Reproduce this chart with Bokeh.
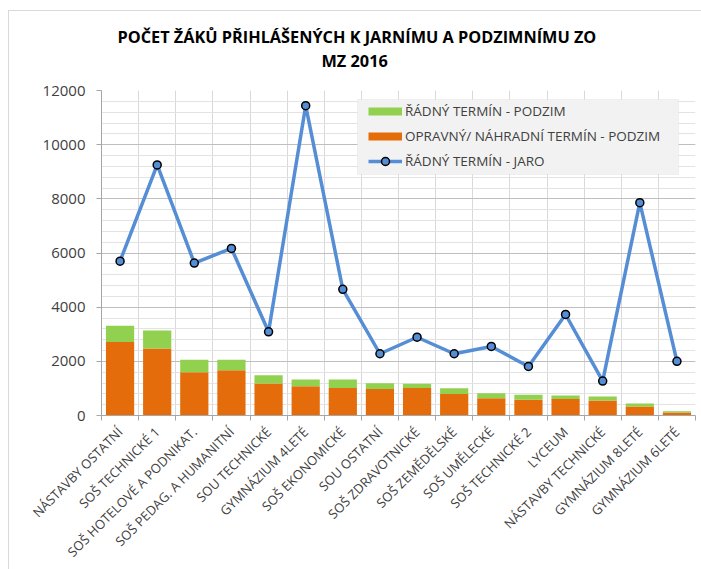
import numpy as np
from bokeh.plotting import figure
from bokeh.models import (ColumnDataSource, Range1d, FixedTicker, Legend, LegendItem,
                          BoxAnnotation, Title)
from bokeh.embed import file_html
from bokeh.resources import INLINE

# ---------------- data ----------------
CATEGORIES = [
    "NÁSTAVBY OSTATNÍ", "SOŠ TECHNICKÉ 1", "SOŠ HOTELOVÉ A PODNIKAT.",
    "SOŠ PEDAG. A HUMANITNÍ", "SOU TECHNICKÉ", "GYMNÁZIUM 4LETÉ",
    "SOŠ EKONOMICKÉ", "SOU OSTATNÍ", "SOŠ ZDRAVOTNICKÉ", "SOŠ ZEMĚDĚLSKÉ",
    "SOŠ UMĚLECKÉ", "SOŠ TECHNICKÉ 2", "LYCEUM", "NÁSTAVBY TECHNICKÉ",
    "GYMNÁZIUM 8LETÉ", "GYMNÁZIUM 6LETÉ",
]
OPRAVNY_PODZIM = [2710, 2470, 1600, 1670, 1180, 1080, 1020, 980, 1020, 790, 640, 580, 610, 550, 330, 110]
RADNY_PODZIM = [600, 670, 460, 390, 305, 245, 305, 210, 150, 220, 185, 185, 125, 150, 110, 50]
RADNY_JARO = [5700, 9250, 5630, 6170, 3090, 11440, 4660, 2280, 2890, 2280, 2550, 1810, 3730, 1270, 7860, 2000]
Y_TICKS = [0, 2000, 4000, 6000, 8000, 10000, 12000]
Y_MINOR_STEP = 400
TITLE_LINES = ["POČET ŽÁKŮ PŘIHLÁŠENÝCH K JARNÍMU A PODZIMNÍMU ZO", "MZ 2016"]
LEGEND_LABELS = ["ŘÁDNÝ TERMÍN - PODZIM", "OPRAVNÝ/ NÁHRADNÍ TERMÍN - PODZIM", "ŘÁDNÝ TERMÍN - JARO"]

# ---------------- style ----------------
FONT = "Open Sans"
ORANGE = "#E46C0A"
GREEN = "#92D050"
BLUE = "#558ED5"
AXIS = "#a6a6a6"
TEXT = "#404040"
BORDER = "#d9d9d9"

n = len(CATEGORIES)
centers = np.arange(n) + 0.5
bounds = list(range(n + 1))

source = ColumnDataSource(dict(x=centers, opravny=OPRAVNY_PODZIM, radny=RADNY_PODZIM,
                               jaro=RADNY_JARO, cat=CATEGORIES))

p = figure(width=701, height=569, output_backend="svg", toolbar_location=None, title=None,
           x_range=Range1d(0, n), y_range=Range1d(Y_TICKS[0], Y_TICKS[-1]),
           min_border_left=101, min_border_right=6, min_border_top=90, min_border_bottom=153)
p.outline_line_color = None
p.background_fill_color = "white"
p.border_fill_alpha = 0
# chart border (left and top edges) drawn as CSS background behind the transparent canvas
p.styles = {
    "background-color": "white",
    "background-image": f"linear-gradient({BORDER},{BORDER}), linear-gradient({BORDER},{BORDER})",
    "background-size": "1px 100%, 100% 1px",
    "background-position": "8px 10px, 8px 10px",
    "background-repeat": "no-repeat",
}

# x axis: labels at category centres, tick marks at category boundaries
xt = FixedTicker(ticks=list(centers), minor_ticks=bounds)
p.xaxis.ticker = xt
p.xaxis.major_label_overrides = {float(c): name for c, name in zip(centers, CATEGORIES)}
p.xaxis.major_label_orientation = np.pi / 4
p.xaxis.major_tick_out = 0
p.xaxis.major_tick_in = 0
p.xaxis.minor_tick_out = 5
p.xaxis.minor_tick_in = 0
p.xaxis.minor_tick_line_color = AXIS
p.xaxis.axis_line_color = AXIS
p.xaxis.major_label_standoff = 9
p.xaxis.major_label_text_font = FONT
p.xaxis.major_label_text_font_size = "13px"
p.xaxis.major_label_text_color = TEXT

yt = FixedTicker(ticks=Y_TICKS, minor_ticks=list(range(Y_TICKS[0], Y_TICKS[-1] + 1, Y_MINOR_STEP)))
p.yaxis.ticker = yt
p.yaxis.major_tick_out = 5
p.yaxis.major_tick_in = 0
p.yaxis.minor_tick_out = 0
p.yaxis.minor_tick_in = 0
p.yaxis.major_tick_line_color = AXIS
p.yaxis.axis_line_color = AXIS
p.yaxis.major_label_standoff = 11
p.yaxis.major_label_text_font = FONT
p.yaxis.major_label_text_font_size = "15px"
p.yaxis.major_label_text_color = TEXT

p.xgrid.ticker = xt
p.xgrid.grid_line_color = None
p.xgrid.minor_grid_line_color = "#d9d9d9"
p.ygrid.ticker = yt
p.ygrid.grid_line_color = "#bfbfbf"
p.ygrid.minor_grid_line_color = "#e3e3e3"

# bars
p.vbar_stack(["opravny", "radny"], x="x", width=0.76, fill_color=[ORANGE, GREEN],
             line_color=None, source=source)

# line + markers
jl = p.line("x", "jaro", source=source, line_color=BLUE, line_width=3.5)
js = p.scatter("x", "jaro", source=source, size=8, fill_color=BLUE, line_color="black",
               line_width=1.5)

# legend glyph renderers (no visible data)
dummy = ColumnDataSource(dict(x=[centers[0]], y=np.array([np.nan])))
g_r = p.line("x", "y", source=dummy, line_color=GREEN, line_width=8)
o_r = p.line("x", "y", source=dummy, line_color=ORANGE, line_width=8)

# legend background box
box = BoxAnnotation(left=256, right=577, top=316, bottom=241,
                    left_units="screen", right_units="screen", top_units="screen",
                    bottom_units="screen", fill_color="#f2f2f2", fill_alpha=1,
                    line_color="#d9d9d9", line_width=1)
p.add_layout(box)

legend = Legend(items=[LegendItem(label=LEGEND_LABELS[0], renderers=[g_r]),
                       LegendItem(label=LEGEND_LABELS[1], renderers=[o_r]),
                       LegendItem(label=LEGEND_LABELS[2], renderers=[jl, js])],
                location=(267, 244), orientation="vertical",
                glyph_width=34, glyph_height=20, label_height=20, spacing=5,
                padding=0, margin=0, label_standoff=3,
                background_fill_alpha=0, border_line_alpha=0,
                label_text_font=FONT, label_text_font_size="13.5px", label_text_color=TEXT)
p.add_layout(legend)

# title: two lines, first added is closest to the plot frame
p.add_layout(Title(text=TITLE_LINES[1], align="left", offset=220,
                   standoff=0, padding=(0, 0, 0, 19),
                   text_font=FONT, text_font_style="bold", text_font_size="16.3px",
                   text_color="black"), "above")
p.add_layout(Title(text=TITLE_LINES[0], align="left", offset=16, standoff=0,
                   text_font=FONT, text_font_style="bold", text_font_size="16.3px",
                   text_color="black"), "above")

open("out.html", "w").write(file_html(p, INLINE))
